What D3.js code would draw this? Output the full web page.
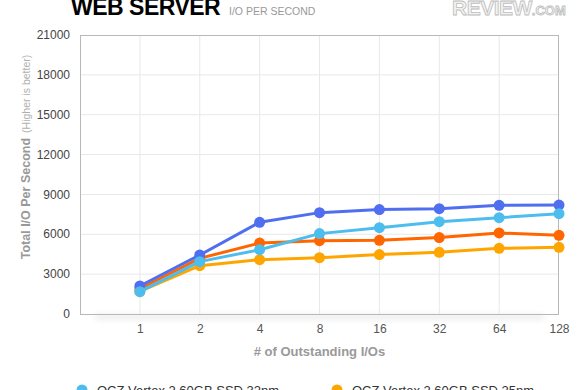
<!DOCTYPE html>
<html><head><meta charset="utf-8">
<script src="https://cdn.jsdelivr.net/npm/d3@7"></script>
<style>html,body{margin:0;padding:0;background:#fff;overflow:hidden}</style>
</head><body>
<svg id="c" width="580" height="390"></svg>
<script>
const categories = ["1","2","4","8","16","32","64","128"];
const yTicks = [0,3000,6000,9000,12000,15000,18000,21000];
const seriesNames = ["OCZ Vertex 2 60GB SSD 32nm","OCZ Vertex 2 60GB SSD 25nm","OCZ Vertex 2 120GB SSD 34nm","OCZ Vertex 2 120GB SSD 25nm"];
const seriesColors = ["#4dbdee","#ffa500","#4f6ef0","#ff6600"];
const s32nm = [1680,3940,4840,6050,6500,6950,7250,7550];
const s25nm = [1700,3640,4090,4240,4470,4640,4940,5020];
const sDark = [2110,4440,6900,7630,7860,7930,8180,8200];
const sRed  = [1900,4190,5340,5520,5550,5750,6100,5920];
const seriesValues = [s32nm,s25nm,sDark,sRed];
const drawOrder = [1,3,2,0];

const svg = d3.select("#c");
const L=80, R=559, T=35, B=314;
const x = d3.scalePoint().domain(["",...categories]).range([L,R]);
const y = d3.scaleLinear().domain([0,21000]).range([B,T]);

// shadow under axis
const defs = svg.append("defs");
const f = defs.append("filter").attr("id","blur").attr("x","-10%").attr("y","-200%").attr("width","120%").attr("height","500%");
f.append("feGaussianBlur").attr("stdDeviation",3);
svg.append("rect").attr("x",L+15).attr("y",B+1).attr("width",R-L-30).attr("height",4)
  .attr("fill","#000").attr("opacity",0.1).attr("filter","url(#blur)");

// gridlines
svg.append("g").selectAll("line").data(yTicks.slice(1,-1)).join("line")
  .attr("x1",L).attr("x2",R).attr("y1",d=>y(d)).attr("y2",d=>y(d))
  .attr("stroke","#e8e8e8").attr("stroke-width",1);
svg.append("g").selectAll("line").data(categories.slice(0,-1)).join("line")
  .attr("x1",d=>x(d)).attr("x2",d=>x(d)).attr("y1",T).attr("y2",B)
  .attr("stroke","#e8e8e8").attr("stroke-width",1);
svg.append("rect").attr("x",L+0.5).attr("y",T+0.5).attr("width",R-L-1).attr("height",B-T)
  .attr("fill","none").attr("stroke","#b8b8b8").attr("stroke-width",1);

// y axis labels
const yAxis = svg.append("g").attr("transform",`translate(${L-10},0)`)
  .call(d3.axisLeft(y).tickValues(yTicks).tickSize(0).tickPadding(0).tickFormat(d3.format("d")));
yAxis.select(".domain").remove();
yAxis.selectAll("text").attr("font-family","Liberation Sans, Arial, sans-serif").attr("font-size",12).attr("fill","#444").attr("dy","0.3em");

// x axis labels
const xAxis = svg.append("g").attr("transform",`translate(0,${B+16})`)
  .call(d3.axisBottom(x).tickValues(categories).tickSize(0).tickPadding(0));
xAxis.select(".domain").remove();
xAxis.selectAll("text").attr("font-family","Liberation Sans, Arial, sans-serif").attr("font-size",12).attr("fill","#555").attr("dy","0.71em").attr("y",-6);

// axis titles
svg.append("text").attr("x",(L+R)/2).attr("y",356).attr("text-anchor","middle")
  .attr("font-family","Liberation Sans, Arial, sans-serif").attr("font-size",13).attr("font-weight","bold").attr("fill","#999")
  .text("# of Outstanding I/Os");
const yt = svg.append("text").attr("transform","translate(30,157) rotate(-90)").attr("text-anchor","middle")
  .attr("font-family","Liberation Sans, Arial, sans-serif");
yt.append("tspan").attr("font-size",12.5).attr("font-weight","bold").attr("fill","#999").text("Total I/O Per Second");
yt.append("tspan").attr("font-size",10.5).attr("fill","#b0b0b0").attr("dx",5).text("(Higher is better)");

// title
svg.append("text").attr("x",71).attr("y",15).attr("font-family","Liberation Sans, Arial, sans-serif")
  .attr("font-size",23).attr("font-weight","bold").attr("fill","#000").attr("letter-spacing",-0.5).text("WEB SERVER");
svg.append("text").attr("x",229).attr("y",15).attr("font-family","Liberation Sans, Arial, sans-serif")
  .attr("font-size",10.5).attr("fill","#999").text("I/O PER SECOND");
// logo
const logo = svg.append("text").attr("x",452).attr("y",15).attr("font-family","Liberation Sans, Arial, sans-serif")
  .attr("font-weight","bold").attr("fill","#f2f2f2").attr("stroke","#bdbdbd").attr("stroke-width",0.8);
logo.append("tspan").attr("font-size",21).attr("letter-spacing",-0.5).text("REVIEW");
logo.append("tspan").attr("font-size",13).text(".COM");

// lines
const line = d3.line().x((d,i)=>x(categories[i])).y(d=>y(d));
drawOrder.forEach(k=>{
  const g = svg.append("g");
  g.append("path").datum(seriesValues[k]).attr("d",line).attr("fill","none")
    .attr("stroke",seriesColors[k]).attr("stroke-width",3).attr("stroke-linejoin","round");
  g.selectAll("circle").data(seriesValues[k]).join("circle")
    .attr("cx",(d,i)=>x(categories[i])).attr("cy",d=>y(d)).attr("r",5.5).attr("fill",seriesColors[k]);
});

// legend
const legPos = [[82,390],[337,390],[82,412],[337,412]];
seriesNames.forEach((n,k)=>{
  const g = svg.append("g").attr("transform",`translate(${legPos[k][0]},${legPos[k][1]})`);
  g.append("circle").attr("r",5.5).attr("fill",seriesColors[k]);
  g.append("text").attr("x",15).attr("y",5).attr("font-family","Liberation Sans, Arial, sans-serif")
    .attr("font-size",13).attr("fill","#333").text(n);
});
</script>
</body></html>
